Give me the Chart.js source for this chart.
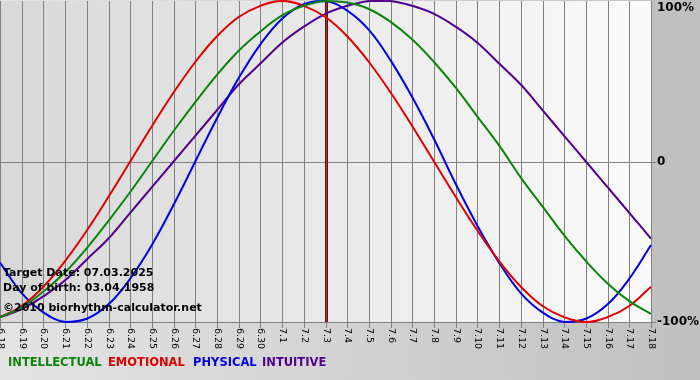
<!DOCTYPE html>
<html>
<head>
<meta charset="utf-8">
<script src="https://cdn.jsdelivr.net/npm/chart.js@4.4.1/dist/chart.umd.min.js"></script>
<style>
    html, body { margin: 0; padding: 0; background: #c8c8c8; }
    #wrap { width: 700px; height: 380px; }
</style>
</head>
<body>
<div id="wrap"><canvas id="bio" width="700" height="380"></canvas></div>
<script>
const days = ['6.18', '6.19', '6.20', '6.21', '6.22', '6.23', '6.24', '6.25', '6.26', '6.27', '6.28', '6.29', '6.30',
    '7.1', '7.2', '7.3', '7.4', '7.5', '7.6', '7.7', '7.8', '7.9', '7.10', '7.11', '7.12', '7.13', '7.14', '7.15', '7.16', '7.17', '7.18'];

const intellectual = [-97, -91, -81, -69, -54, -37, -19, 0, 19, 37, 54, 69, 81, 91, 97, 100,
    99, 95, 87, 76, 62, 46, 28, 10, -10, -28, -46, -62, -76, -87, -95];
const emotional = [-97, -90, -78, -62, -43, -22, 0, 22, 43, 62, 78, 90, 97, 100, 97, 90,
    78, 62, 43, 22, 0, -22, -43, -62, -78, -90, -97, -100, -97, -90, -78];
const physical = [-63, -82, -94, -100, -98, -89, -73, -52, -27, 0, 27, 52, 73, 89, 98, 100,
    94, 82, 63, 40, 14, -14, -40, -63, -82, -94, -100, -98, -89, -73, -52];
const intuitive = [-97, -92, -84, -74, -61, -48, -32, -16, 0, 16, 32, 48, 61, 74, 84, 92,
    97, 100, 100, 97, 92, 84, 74, 61, 48, 32, 16, 0, -16, -32, -48];

const seriesNames = ['INTELLECTUAL', 'EMOTIONAL', 'PHYSICAL', 'INTUITIVE'];
const seriesColors = ['#0a840a', '#e00000', '#0000e0', '#50008c'];
const yTickValues = [100, 0, -100];
const yTickLabels = ['100%', '0', '-100%'];
const targetDay = '7.3';
const infoLines = ['Target Date: 07.03.2025', 'Day of birth: 03.04.1958', '\u00A92010 biorhythm-calculator.net'];

const FONT = '"DejaVu Sans", Verdana, sans-serif';
const legendX = [8, 108, 193, 262];

const decor = {
    id: 'decor',
    beforeDraw(chart) {
        const ctx = chart.ctx;
        const a = chart.chartArea;
        const xs = chart.scales.x;
        const ys = chart.scales.y;

        ctx.save();
        // page background
        let g = ctx.createLinearGradient(0, 0, 700, 0);
        g.addColorStop(0, '#e4e4e4');
        g.addColorStop(1, '#c0c0c0');
        ctx.fillStyle = g;
        ctx.fillRect(0, 0, 700, 380);
        ctx.fillStyle = '#c0c0c0';
        ctx.fillRect(a.right, 0, 700 - a.right, a.bottom);

        // plot background
        g = ctx.createLinearGradient(a.left, 0, a.right, 0);
        g.addColorStop(0, '#d8d8d8');
        g.addColorStop(1, '#fbfbfb');
        ctx.fillStyle = g;
        ctx.fillRect(a.left, a.top, a.right - a.left, a.bottom - a.top);

        // vertical grid + ticks
        ctx.strokeStyle = '#808080';
        ctx.lineWidth = 1;
        ctx.beginPath();
        days.forEach((d, i) => {
            const x = Math.round(xs.getPixelForValue(i)) + 0.5;
            ctx.moveTo(x, a.top);
            ctx.lineTo(x, a.bottom + 6);
        });
        const y0 = Math.round(ys.getPixelForValue(0)) + 0.5;
        ctx.moveTo(a.left, y0);
        ctx.lineTo(a.right + 5, y0);
        const yb = Math.round(ys.getPixelForValue(-100)) + 0.5;
        ctx.moveTo(a.left, yb);
        ctx.lineTo(a.right + 5, yb);
        ctx.stroke();

        // target day line
        const tx = xs.getPixelForValue(days.indexOf(targetDay));
        ctx.fillStyle = '#5a1414';
        ctx.fillRect(Math.round(tx) - 1, a.top, 3, a.bottom - a.top);
        ctx.fillStyle = '#b03838';
        ctx.fillRect(Math.round(tx), a.top, 1, a.bottom - a.top);
        ctx.restore();
    },
    afterDraw(chart) {
        const ctx = chart.ctx;
        const a = chart.chartArea;
        const xs = chart.scales.x;
        const ys = chart.scales.y;

        ctx.save();
        // rotated day labels
        ctx.fillStyle = '#000';
        ctx.font = '9.5px ' + FONT;
        ctx.textAlign = 'left';
        ctx.textBaseline = 'middle';
        days.forEach((d, i) => {
            const x = xs.getPixelForValue(i);
            ctx.save();
            ctx.translate(x + 0.5, a.bottom + 6);
            ctx.rotate(Math.PI / 2);
            ctx.fillText(d, 0, 0);
            ctx.restore();
        });

        // right axis labels
        ctx.font = 'bold 12px ' + FONT;
        yTickValues.forEach((v, i) => {
            let y = ys.getPixelForValue(v);
            if (v === 100) y = a.top + 7;
            ctx.fillText(yTickLabels[i], a.right + 6, y);
        });

        // info text
        ctx.font = 'bold 11px ' + FONT;
        ctx.textBaseline = 'alphabetic';
        ctx.fillText(infoLines[0], 3, 276);
        ctx.fillText(infoLines[1], 3, 291);
        ctx.fillText(infoLines[2], 3, 311);

        // legend
        ctx.font = 'bold 11.5px ' + FONT;
        seriesNames.forEach((n, i) => {
            ctx.fillStyle = seriesColors[i];
            ctx.fillText(n, legendX[i], 366);
        });
        ctx.restore();
    }
};

function makeSet(label, data, color) {
    return {
        label: label,
        data: data,
        borderColor: color,
        borderWidth: 2,
        pointRadius: 0,
        tension: 0.4,
        fill: false,
        clip: false
    };
}

new Chart(document.getElementById('bio').getContext('2d'), {
    type: 'line',
    data: {
        labels: days,
        datasets: [
            makeSet(seriesNames[0], intellectual, seriesColors[0]),
            makeSet(seriesNames[1], emotional, seriesColors[1]),
            makeSet(seriesNames[2], physical, seriesColors[2]),
            makeSet(seriesNames[3], intuitive, seriesColors[3])
        ]
    },
    options: {
        responsive: false,
        animation: false,
        events: [],
        layout: { padding: { left: 0, top: 1, right: 49, bottom: 58 } },
        plugins: { legend: { display: false }, tooltip: { enabled: false } },
        scales: {
            x: { display: false, offset: false },
            y: { display: false, min: -100, max: 100 }
        }
    },
    plugins: [decor]
});
</script>
</body>
</html>
